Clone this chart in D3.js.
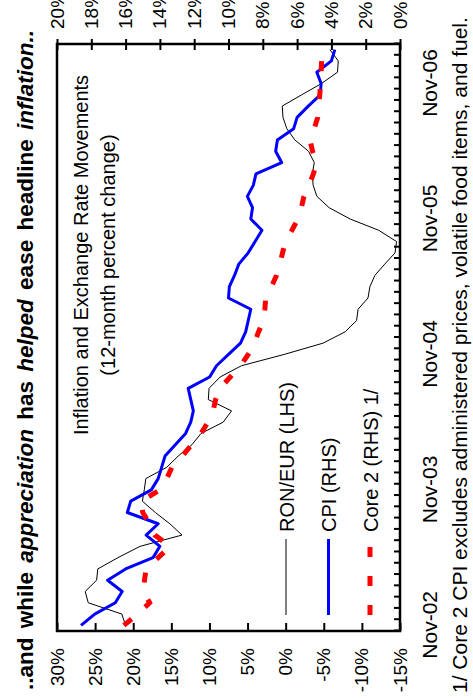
<!DOCTYPE html>
<html>
<head>
<meta charset="utf-8">
<script src="https://cdn.jsdelivr.net/npm/d3@7"></script>
<style>
  html, body { margin: 0; padding: 0; background: #fff; }
  svg { display: block; }
</style>
</head>
<body>
<div id="chart"></div>
<script>
// monthly categories, Nov-02 .. Feb-07
const months = d3.utcMonth.range(new Date(Date.UTC(2002, 10, 1)), new Date(Date.UTC(2007, 2, 1)));
const tickLabels = ["Nov-02", "Nov-03", "Nov-04", "Nov-05", "Nov-06"];
const lhsTicks = [30, 25, 20, 15, 10, 5, 0, -5, -10, -15];
const rhsTicks = [20, 18, 16, 14, 12, 10, 8, 6, 4, 2, 0];

// RON/EUR, 12-month % change (LHS)
const ronEur = [21.0, 21.5, 25.9, 26.3, 24.8, 24.65, 22.0, 19.1, 13.6, 15.2, 17.1, 18.8,
  18.55, 18.35, 15.6, 14.1, 12.3, 11.1, 8.2, 7.1, 10.15, 10.05, 8.6, 5.8,
  0.2, -4.9, -7.8, -9.3, -9.5, -10.8, -11.05, -11.7, -13.0, -14.35, -14.55, -12.2,
  -8.45, -5.7, -4.1, -3.6, -3.5, -3.75, -3.0, -1.2, -0.15, 0.35, 0.45, -2.1,
  -4.7, -6.8, -6.9, -5.8];
// CPI (RHS)
const cpi = [18.6, 17.8, 16.6, 16.2, 17.05, 16.0, 14.4, 14.0, 14.8, 14.1, 15.9, 15.7,
  14.5, 14.1, 13.9, 13.7, 13.1, 12.5, 12.2, 12.05, 12.2, 12.35, 11.1, 10.7,
  10.0, 9.3, 9.0, 8.85, 8.7, 10.0, 9.95, 9.65, 9.4, 8.85, 8.45, 8.05,
  8.7, 8.6, 8.9, 8.55, 8.4, 6.9, 7.25, 7.15, 6.2, 6.0, 5.35, 4.65,
  4.6, 4.85, 4.0, 3.8];
// Core 2 (RHS)
const core2 = [16.1, 15.3, 14.6, 14.95, 14.9, 14.8, 14.1, 13.4, 14.3, 14.6, 15.0, 15.1,
  14.0, 13.6, 13.3, 12.7, 12.15, 11.6, 11.2, 10.9, 10.75, 10.5, 9.9, 9.3,
  8.85, 8.5, 8.25, 7.95, 7.88, 7.83, 7.5, 7.2, 7.0, 6.85, 6.68, 6.3,
  5.95, 5.75, 5.6, 5.3, 5.05, 4.86, 5.1, 5.25, 5.0, 4.8, 4.72, 4.68,
  4.63, 4.6, 4.57, 4.55];

const titleParts = [
  { text: "..and while ", italic: false },
  { text: "appreciation", italic: true },
  { text: " has ", italic: false },
  { text: "helped", italic: true },
  { text: " ease headline ", italic: false },
  { text: "inflation..", italic: true }
];
const legendItems = [
  { label: "RON/EUR (LHS)", color: "#000", width: 1, dash: null },
  { label: "CPI (RHS)", color: "#0000ff", width: 3, dash: null },
  { label: "Core 2 (RHS) 1/", color: "#ff0000", width: 5, dash: "10,19" }
];

const font = "'Liberation Sans', Arial, sans-serif";

// chart is laid out unrotated (698 wide x 473 tall), then turned 90° counter-clockwise
const svg = d3.select("#chart").append("svg")
  .attr("width", 473)
  .attr("height", 698)
  .style("font-family", font);

const g = svg.append("g").attr("transform", "translate(0,698) rotate(-90)");

const x = d3.scaleLinear().domain([0, months.length]).range([67, 654]);
const yL = d3.scaleLinear().domain([-15, 30]).range([400, 57]);
const yR = d3.scaleLinear().domain([0, 20]).range([400, 57]);

// title
const title = g.append("text")
  .attr("x", 8)
  .attr("y", 33)
  .attr("font-size", 22.5)
  .attr("font-weight", "bold")
  .attr("word-spacing", 3)
  .attr("fill", "#000");
titleParts.forEach(p => {
  title.append("tspan")
    .attr("font-style", p.italic ? "italic" : "normal")
    .text(p.text);
});

// series
const lineFor = scale => d3.line().x((d, i) => x(i + 0.5)).y(d => scale(d));

g.append("path")
  .datum(ronEur)
  .attr("d", lineFor(yL))
  .attr("fill", "none")
  .attr("stroke", "#000")
  .attr("stroke-width", 1);

g.append("path")
  .datum(cpi)
  .attr("d", lineFor(yR))
  .attr("fill", "none")
  .attr("stroke", "#0000ff")
  .attr("stroke-width", 3)
  .attr("stroke-linejoin", "round");

g.append("path")
  .datum(core2)
  .attr("d", lineFor(yR))
  .attr("fill", "none")
  .attr("stroke", "#ff0000")
  .attr("stroke-width", 5)
  .attr("stroke-dasharray", "10,18");

// frame
g.append("rect")
  .attr("x", 67)
  .attr("y", 57)
  .attr("width", 587)
  .attr("height", 343)
  .attr("fill", "none")
  .attr("stroke", "#000")
  .attr("stroke-width", 2.5);

// LHS axis
g.append("g")
  .attr("transform", "translate(67,0)")
  .call(d3.axisLeft(yL).tickValues(lhsTicks).tickSize(-8).tickPadding(17).tickFormat(d => d + "%"))
  .call(a => a.select(".domain").remove())
  .call(a => a.selectAll(".tick line").attr("stroke", "#000").attr("stroke-width", 2))
  .call(a => a.selectAll("text").attr("fill", "#000").style("font-size", "19px").style("font-family", font));

// RHS axis, ticks cross the frame
g.append("g")
  .attr("transform", "translate(654,0)")
  .call(d3.axisRight(yR).tickValues(rhsTicks).tickSize(-6).tickPadding(15).tickFormat(d => d + "%"))
  .call(a => a.select(".domain").remove())
  .call(a => a.selectAll(".tick line").attr("x1", 5).attr("stroke", "#000").attr("stroke-width", 2))
  .call(a => a.selectAll("text").attr("fill", "#000").style("font-size", "19px").style("font-family", font));

// monthly tick marks
g.append("g")
  .attr("transform", "translate(0,400)")
  .call(d3.axisBottom(x).tickValues(d3.range(0, months.length + 1)).tickSize(-6).tickFormat(""))
  .call(a => a.select(".domain").remove())
  .call(a => a.selectAll(".tick line").attr("stroke", "#000").attr("stroke-width", 2));

// date labels
const fmt = d3.utcFormat("%b-%y");
const labelIdx = tickLabels.map(l => months.findIndex(m => fmt(m) === l));
g.append("g")
  .attr("transform", "translate(0,400)")
  .call(d3.axisBottom(x).tickValues(labelIdx.map(i => i + 0.5)).tickSize(0).tickPadding(22)
    .tickFormat((d, i) => tickLabels[i]))
  .call(a => a.select(".domain").remove())
  .call(a => a.selectAll("text").attr("fill", "#000").style("font-size", "21px").style("font-family", font));

// chart title inside the plot
g.append("text")
  .attr("x", 443)
  .attr("y", 88)
  .attr("text-anchor", "middle")
  .attr("font-size", 20)
  .text("Inflation and Exchange Rate Movements");
g.append("text")
  .attr("x", 443)
  .attr("y", 115)
  .attr("text-anchor", "middle")
  .attr("font-size", 20)
  .text("(12-month percent change)");

// legend
const legend = g.append("g");
const rowY = [286, 328.5, 370];
const item = legend.selectAll("g")
  .data(legendItems)
  .join("g")
  .attr("transform", (d, i) => `translate(0,${rowY[i]})`);

item.append("line")
  .attr("x1", 83)
  .attr("x2", d => d.dash ? 152 : 159)
  .attr("stroke", d => d.color)
  .attr("stroke-width", d => d.width)
  .attr("stroke-dasharray", d => d.dash);

item.append("text")
  .attr("x", 166)
  .attr("y", 7.5)
  .attr("font-size", 20)
  .attr("fill", "#000")
  .text(d => d.label);

// footnote
g.append("text")
  .attr("x", 5)
  .attr("y", 467)
  .attr("font-size", 21)
  .attr("fill", "#000")
  .text("1/ Core 2 CPI excludes administered prices, volatile food items, and fuel.");
</script>
</body>
</html>
